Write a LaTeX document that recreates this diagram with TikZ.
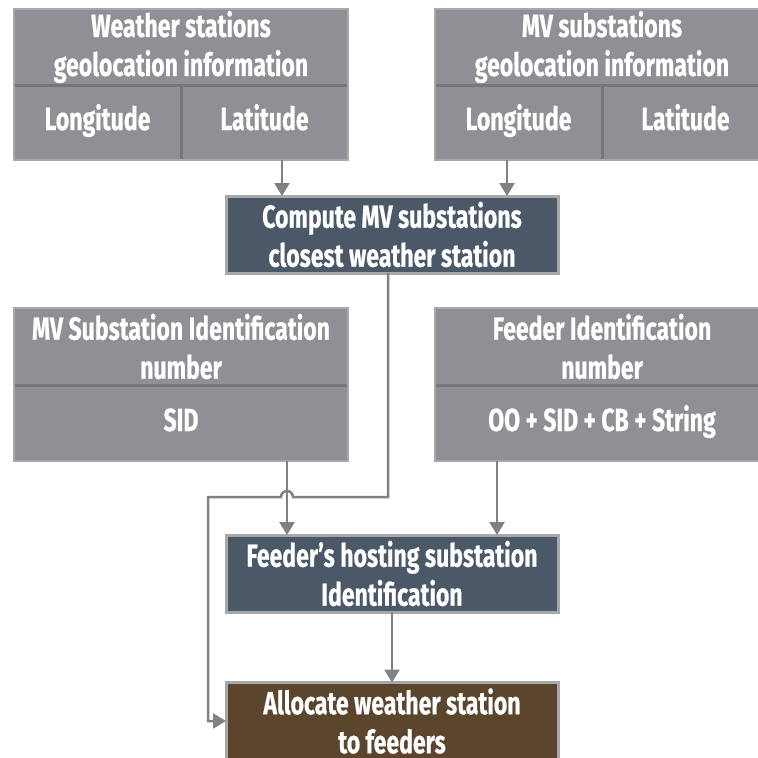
\documentclass[tikz,border=0pt]{standalone}
\usepackage{fontspec}
\usetikzlibrary{arrows.meta}
\newfontfamily\lblfont[FakeStretch=0.72,FakeBold=0.6]{Fira Sans}
\definecolor{cellgrey}{RGB}{143,144,149}
\definecolor{rimgrey}{RGB}{168,168,170}
\definecolor{divgrey}{RGB}{118,119,124}
\definecolor{linegrey}{RGB}{128,129,134}
\definecolor{slate}{RGB}{74,88,104}
\definecolor{umber}{RGB}{91,70,45}
\tikzset{
  x=1pt, y=-1pt,
  lbl/.style={text=white, font=\lblfont\bfseries\fontsize{32}{39}\selectfont,
    align=center, inner sep=0pt, outer sep=0pt},
  oneline/.style={text height=22pt, text depth=6pt},
  cell/.style={lbl, fill=cellgrey, minimum width=#1, minimum height=76pt},
  cell/.default=334pt,
  stepbox/.style={lbl, fill=#1, draw=rimgrey, line width=3pt,
    minimum width=332pt, minimum height=77pt},
  divider/.style={draw=divgrey, line width=3pt},
  rim/.style={draw=rimgrey, line width=2.5pt},
  arr/.style={draw=linegrey, line width=2.5pt,
    -{Triangle[width=15pt,length=13pt]}},
}
\begin{document}
\begin{tikzpicture}
\useasboundingbox (0,0) rectangle (758,758);
\clip (0,0) rectangle (758,758);

% weather stations geolocation table
\node[cell] (wsT) at (181,47) {Weather stations\\geolocation information};
\node[cell=167pt,oneline] (wsLon) at (97.5,122) {Longitude};
\node[cell=167pt,oneline] (wsLat) at (264.5,122) {Latitude};
\draw[divider] (wsT.south west) -- (wsT.south east);
\draw[divider] (wsLon.north east) -- (wsLon.south east);
\draw[rim] (wsT.north west) rectangle (wsLat.south east);

% MV substations geolocation table
\node[cell] (mvT) at (602,47) {MV substations\\geolocation information};
\node[cell=167pt,oneline] (mvLon) at (518.5,122) {Longitude};
\node[cell=167pt,oneline] (mvLat) at (685.5,122) {Latitude};
\draw[divider] (mvT.south west) -- (mvT.south east);
\draw[divider] (mvLon.north east) -- (mvLon.south east);
\draw[rim] (mvT.north west) rectangle (mvLat.south east);

% closest weather station step
\node[stepbox=slate] (comp) at (392,234.5) {Compute MV substations\\closest weather station};

% substation identification table
\node[cell,minimum height=77pt] (sidT) at (181,346.5) {MV Substation Identification\\number};
\node[cell,oneline] (sid) at (181,423) {SID};
\draw[divider] (sidT.south west) -- (sidT.south east);
\draw[rim] (sidT.north west) rectangle (sid.south east);

% feeder identification table
\node[cell,minimum height=77pt] (fidT) at (602,346.5) {Feeder Identification\\number};
\node[cell,oneline] (fid) at (602,423) {OO + SID + CB + String};
\draw[divider] (fidT.south west) -- (fidT.south east);
\draw[rim] (fidT.north west) rectangle (fid.south east);

% processing steps
\node[stepbox=slate] (host) at (392,573.5) {Feeder’s hosting substation\\Identification};
\node[stepbox=umber] (alloc) at (392,721) {Allocate weather station\\to feeders};

% connector columns
\coordinate (xa) at (282,0);
\coordinate (xb) at (507,0);
\coordinate (xc) at (388,0);
\coordinate (xd) at (287,0);
\coordinate (xe) at (497,0);
\coordinate (bend) at (388,497);
\coordinate (hopR) at (293,497);
\coordinate (side) at (208,497);

\draw[arr] (wsLat.south -| xa) -- (comp.north -| xa);
\draw[arr] (mvLon.south -| xb) -- (comp.north -| xb);
\draw[arr] (sid.south -| xd) -- (host.north -| xd);
\draw[arr] (fid.south -| xe) -- (host.north -| xe);
\draw[arr] (host.south) -- (alloc.north);
\draw[arr] (comp.south -| xc) -- (bend) -- (hopR)
  arc[start angle=0, end angle=180, radius=6pt] -- (side) |- (alloc.west);
\end{tikzpicture}
\end{document}
